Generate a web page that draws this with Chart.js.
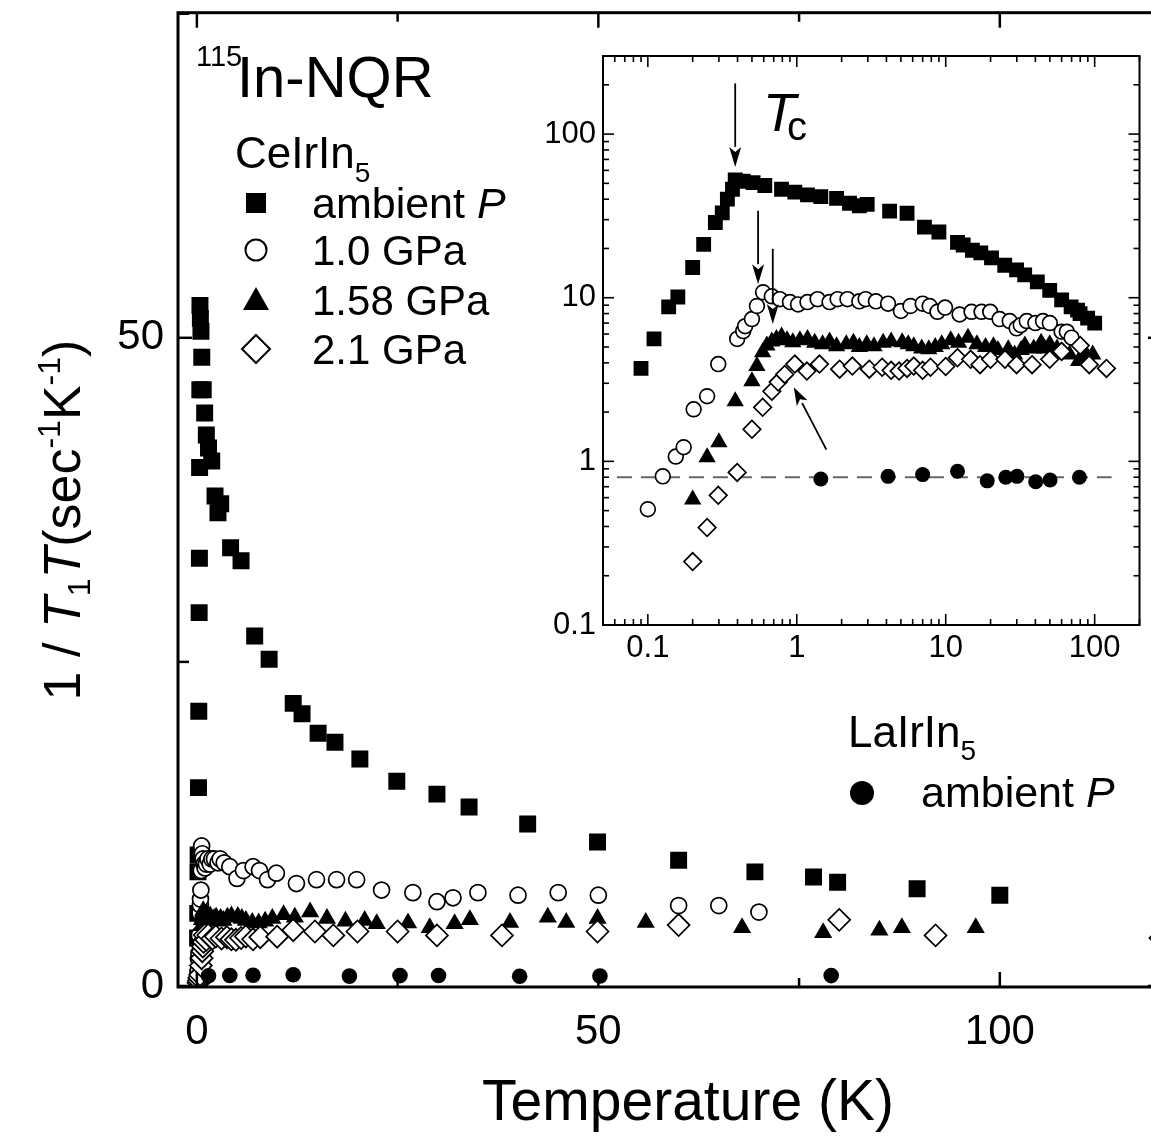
<!DOCTYPE html>
<html>
<head>
<meta charset="utf-8">
<script src="https://cdn.jsdelivr.net/npm/chart.js@4.4.1/dist/chart.umd.min.js"></script>
<style>
html,body{margin:0;padding:0;background:#fff;}
#wrap{position:relative;width:1151px;height:1138px;overflow:hidden;background:#fff;}
#main{position:absolute;left:0;top:0;}
#inset{position:absolute;left:520px;top:30px;}
#ov{position:absolute;left:0;top:0;pointer-events:none;}
</style>
</head>
<body>
<div id="wrap">
<canvas id="main" width="1180" height="1138"></canvas>
<canvas id="inset" width="630" height="650"></canvas>
<svg id="ov" width="1151" height="1138" font-family="'Liberation Sans', Arial, Helvetica, sans-serif" fill="#000">
  <text x="196" y="66" font-size="29">115</text>
  <text x="237" y="97" font-size="58">In-NQR</text>
  <text x="235" y="168" font-size="44">CeIrIn<tspan font-size="28" dy="14">5</tspan></text>
  <rect x="246" y="193" width="20" height="20" fill="#000"/>
  <text x="312" y="218" font-size="43">ambient <tspan font-style="italic">P</tspan></text>
  <circle cx="256" cy="250" r="10.5" fill="#fff" stroke="#000" stroke-width="2"/>
  <text x="312" y="265" font-size="42">1.0 GPa</text>
  <polygon points="256,287 243,310 269,310" fill="#000"/>
  <text x="312" y="315" font-size="42">1.58 GPa</text>
  <polygon points="256,335 270,349 256,363 242,349" fill="#fff" stroke="#000" stroke-width="2"/>
  <text x="312" y="364" font-size="42">2.1 GPa</text>
  <text x="848" y="747" font-size="44">LaIrIn<tspan font-size="28" dy="13">5</tspan></text>
  <circle cx="862" cy="793" r="12" fill="#000"/>
  <text x="921" y="807" font-size="43">ambient <tspan font-style="italic">P</tspan></text>
  <text x="763" y="131" font-size="54" font-style="italic">T</text>
  <text x="787" y="140" font-size="40">c</text>
  <text x="688" y="1120" font-size="57" text-anchor="middle">Temperature (K)</text>
  <text transform="translate(80,520) rotate(-90)" text-anchor="middle" font-size="52">1 / <tspan font-style="italic">T</tspan><tspan font-size="32" dy="10">1</tspan><tspan font-style="italic" dy="-10">T</tspan>(sec<tspan font-size="32" dy="-20">-1</tspan><tspan dy="20">K</tspan><tspan font-size="32" dy="-20">-1</tspan><tspan dy="20">)</tspan></text>
</svg>
</div>
<script>
// ---------------- data (T in K, 1/T1T in sec^-1 K^-1) ----------------
const ceAmbT = [0.09,0.11,0.138,0.159,0.2,0.237,0.284,0.316,0.342,0.37,0.386,0.437,0.509,0.61,0.79,0.97,1.18,1.45,1.85,2.26,2.63,2.97,4.2,5.5,7.2,9.0,12.0,13.1,15.1,17.2,20.3,24.9,29.9,33.9,41.2,49.9,60.0,69.5,76.8,79.8,89.7,100];
const ceAmbV = [3.7,5.6,8.8,10.1,15.3,21.2,28.8,33,40,46,52.5,51.5,50.5,48.5,46,44.2,42.5,41.5,40.5,37.8,36.5,37.2,33.8,32.8,27,25.2,21.8,21,19.5,18.8,17.5,15.8,14.8,13.8,12.5,11.1,9.7,8.8,8.4,8.0,7.5,7.0];

const ce10T = [0.1,0.126,0.154,0.174,0.203,0.25,0.297,0.398,0.437,0.45,0.5,0.54,0.594,0.68,0.77,0.9,1.02,1.18,1.38,1.66,1.88,2.19,2.63,2.9,3.4,4.1,5.0,5.8,7.0,7.8,8.8,9.9,12.4,14.9,17.4,19.9,23.0,26.9,29.9,31.9,35,40,45,50,60,65,70];
const ce10V = [0.51,0.81,1.07,1.22,2.08,2.5,3.93,5.6,6.25,6.7,7.4,8.9,10.8,10.2,9.8,9.4,9.1,9.4,9.8,9.4,9.8,9.8,9.5,9.8,9.5,9.2,8.3,8.9,9.2,8.9,8.2,8.7,7.9,8.2,8.2,8.2,7.4,7.2,6.5,6.8,7.2,7.0,7.2,7.0,6.2,6.2,5.7];

const ce158T = [0.2,0.25,0.3,0.386,0.5,0.54,0.59,0.63,0.68,0.73,0.79,0.86,0.94,1.05,1.18,1.32,1.49,1.66,1.85,2.15,2.4,2.63,2.95,3.3,3.8,4.3,5.1,5.6,6.1,6.9,7.7,8.5,9.4,10.8,12.2,14.1,16.2,18.5,20.9,22.4,26.3,29,32.1,34,39,43.7,46,49.9,55.9,67.9,78,85,87.8,97];
const ce158V = [0.585,1.06,1.31,2.33,3.09,3.82,4.65,5.1,5.4,5.6,5.8,5.5,5.35,5.5,5.6,5.3,5.2,5.4,5.05,5.2,5.3,5.0,5.2,5.05,5.3,5.4,5.35,5.2,5.05,4.9,4.85,5.0,5.2,5.5,5.3,5.7,5.2,5.0,5.05,4.8,4.85,4.5,4.8,5.1,4.9,5.3,4.9,5.2,4.9,4.5,4.1,4.3,4.5,4.5];

const ce21T = [0.2,0.25,0.297,0.398,0.5,0.59,0.68,0.75,0.83,0.97,1.17,1.42,1.94,2.36,3.07,3.74,4.3,4.86,5.5,6.1,7.0,7.9,10,12,14.7,17,20,25,29.9,38,49.9,60,80,92,120];
const ce21V = [0.244,0.394,0.62,0.856,1.57,2.14,2.68,3.05,3.4,3.93,3.56,3.93,3.66,3.82,3.66,3.76,3.6,3.56,3.7,3.82,3.6,3.76,3.8,4.3,4.2,3.9,4.2,4.2,3.9,3.9,4.2,4.7,5.1,3.9,3.7];

const laAmbT = [1.45,4.1,7.0,12.0,19.0,25.3,30.1,40.2,50.2,79];
const laAmbV = [0.78,0.81,0.83,0.87,0.76,0.80,0.81,0.75,0.77,0.80];

// guide line (LaIrIn5 level) and Tc arrows in the inset
const laGuideT = [0.062,130];
const laGuideV = [0.8,0.8];
const tcArrowT = [0.386,0.55,0.69];
const tcArrowFrom = [204,34,19.9];
const tcArrowTo = [63,12.1,6.9];
const diagArrowFrom = [1.58,1.18];
const diagArrowTo = [0.955,2.84];

// tick values / labels
const mainXTicks = [0,25,50,75,100];
const mainXLabels = ['0',null,'50',null,'100'];
const mainYTicks = [0,25,50,75];
const mainYLabels = ['0',null,'50',null];
const insetTicks = [0.1,1,10,100];
const insetTickLabels = ['0.1','1','10','100'];

// --------------------------------------------------------------------
const FONT = "'Liberation Sans', Arial, Helvetica, sans-serif";
const pts = (xs, ys) => xs.map((x, i) => ({x: x, y: ys[i]}));

function seriesSets(s) {
  return [
    {label:'CeIrIn5 ambient P', data:pts(ceAmbT,ceAmbV), pointStyle:'rect', pointRadius:s.sq, backgroundColor:'#000', borderColor:'#000', borderWidth:0, order:5},
    {label:'CeIrIn5 1.0 GPa', data:pts(ce10T,ce10V), pointStyle:'circle', pointRadius:s.ci, backgroundColor:'#fff', borderColor:'#000', borderWidth:1.7, order:4},
    {label:'CeIrIn5 1.58 GPa', data:pts(ce158T,ce158V), pointStyle:'triangle', pointRadius:s.tr, backgroundColor:'#000', borderColor:'#000', borderWidth:0, order:3},
    {label:'CeIrIn5 2.1 GPa', data:pts(ce21T,ce21V), pointStyle:'rectRot', pointRadius:s.di, backgroundColor:'#fff', borderColor:'#000', borderWidth:1.7, order:2},
    {label:'LaIrIn5 ambient P', data:pts(laAmbT,laAmbV), pointStyle:'circle', pointRadius:s.fc, backgroundColor:'#000', borderColor:'#000', borderWidth:0, order:1}
  ];
}

function line(ctx, x1, y1, x2, y2) { ctx.beginPath(); ctx.moveTo(x1, y1); ctx.lineTo(x2, y2); ctx.stroke(); }

const mainFrame = {
  id: 'mainFrame',
  afterDatasetsDraw(chart) {
    const {ctx, chartArea: a, scales: {x, y}} = chart;
    ctx.save();
    ctx.strokeStyle = '#000';
    ctx.lineWidth = 2.5;
    mainXTicks.forEach((v, i) => {
      const p = x.getPixelForValue(v);
      const len = mainXLabels[i] ? 15 : 9;
      line(ctx, p, a.bottom, p, a.bottom - len);
      line(ctx, p, a.top, p, a.top + len);
    });
    mainYTicks.forEach((v, i) => {
      const p = y.getPixelForValue(v);
      const len = mainYLabels[i] ? 14 : 11;
      line(ctx, a.left, p, a.left + len, p);
      line(ctx, a.right, p, a.right - len, p);
    });
    ctx.lineWidth = 3;
    ctx.strokeRect(a.left, a.top, a.right - a.left, a.bottom - a.top);
    ctx.restore();
  }
};

function arrow(ctx, x1, y1, x2, y2, head, hw) {
  const ang = Math.atan2(y2 - y1, x2 - x1);
  const bx = x2 - head * Math.cos(ang), by = y2 - head * Math.sin(ang);
  line(ctx, x1, y1, bx, by);
  ctx.beginPath();
  ctx.moveTo(x2, y2);
  ctx.lineTo(bx + hw * Math.sin(ang), by - hw * Math.cos(ang));
  ctx.lineTo(x2 - (head * 0.75) * Math.cos(ang), y2 - (head * 0.75) * Math.sin(ang));
  ctx.lineTo(bx - hw * Math.sin(ang), by + hw * Math.cos(ang));
  ctx.closePath();
  ctx.fill();
}

const insetFrame = {
  id: 'insetFrame',
  beforeDraw(chart) {
    const {ctx, chartArea: a} = chart;
    ctx.save();
    ctx.fillStyle = '#fff';
    ctx.fillRect(a.left, a.top, a.right - a.left, a.bottom - a.top);
    ctx.restore();
  },
  afterDatasetsDraw(chart) {
    const {ctx, chartArea: a, scales: {x, y}} = chart;
    ctx.save();
    ctx.strokeStyle = '#000';
    ctx.fillStyle = '#000';
    ctx.lineWidth = 1.6;
    for (let e = -2; e <= 2; e++) {
      for (let m = 1; m <= 9; m++) {
        const v = m * Math.pow(10, e);
        const len = m === 1 ? 11 : 6;
        if (v >= x.min && v <= x.max) {
          const p = x.getPixelForValue(v);
          line(ctx, p, a.bottom, p, a.bottom - len);
          line(ctx, p, a.top, p, a.top + len);
        }
        if (v >= y.min && v <= y.max) {
          const p = y.getPixelForValue(v);
          line(ctx, a.left, p, a.left + len, p);
          line(ctx, a.right, p, a.right - len, p);
        }
      }
    }
    ctx.lineWidth = 2;
    ctx.strokeRect(a.left, a.top, a.right - a.left, a.bottom - a.top);
    // Tc arrows
    ctx.lineWidth = 1.8;
    tcArrowT.forEach((t, i) => {
      const px = x.getPixelForValue(t);
      arrow(ctx, px, y.getPixelForValue(tcArrowFrom[i]), px, y.getPixelForValue(tcArrowTo[i]), 20, 6);
    });
    arrow(ctx, x.getPixelForValue(diagArrowFrom[0]), y.getPixelForValue(diagArrowFrom[1]),
               x.getPixelForValue(diagArrowTo[0]), y.getPixelForValue(diagArrowTo[1]), 18, 6);
    ctx.restore();
  }
};

const noGrid = {display: false, drawTicks: false};
function fixX(h) { return s => { s.height = h; s.paddingLeft = 0; s.paddingRight = 0; }; }
function fixY(w) { return s => { s.width = w; s.paddingTop = 0; s.paddingBottom = 0; }; }

new Chart(document.getElementById('main'), {
  type: 'scatter',
  data: {datasets: seriesSets({sq: 12, ci: 8, tr: 10.5, di: 11, fc: 7.8})},
  options: {
    responsive: false, animation: false, devicePixelRatio: 1, events: [],
    layout: {padding: {top: 10, right: 18, left: 0, bottom: 0}},
    plugins: {legend: {display: false}, tooltip: {enabled: false}},
    scales: {
      x: {
        type: 'linear', min: -2.35, max: 120.2,
        afterFit: fixX(151),
        afterBuildTicks: s => { s.ticks = mainXTicks.map(v => ({value: v})); },
        grid: noGrid, border: {display: false},
        ticks: {autoSkip: false, maxRotation: 0, color: '#000', padding: 20,
                font: {family: FONT, size: 42},
                callback: (v) => mainXLabels[mainXTicks.indexOf(v)]}
      },
      y: {
        type: 'linear', min: -0.08, max: 75.08,
        afterFit: fixY(178),
        afterBuildTicks: s => { s.ticks = mainYTicks.map(v => ({value: v})); },
        grid: noGrid, border: {display: false},
        ticks: {autoSkip: false, color: '#000', padding: 14,
                font: {family: FONT, size: 42},
                callback: (v) => mainYLabels[mainYTicks.indexOf(v)]}
      }
    }
  },
  plugins: [mainFrame]
});

const insetSets = seriesSets({sq: 10.5, ci: 7.4, tr: 10, di: 8.8, fc: 7.5});
insetSets.push({label: 'LaIrIn5 level', data: pts(laGuideT, laGuideV), showLine: true, pointRadius: 0,
                borderColor: '#666', borderWidth: 2, borderDash: [15, 9], order: 6});

new Chart(document.getElementById('inset'), {
  type: 'scatter',
  data: {datasets: insetSets},
  options: {
    responsive: false, animation: false, devicePixelRatio: 1, events: [],
    layout: {padding: {top: 26, right: 8, left: 0, bottom: 0}},
    plugins: {legend: {display: false}, tooltip: {enabled: false}},
    scales: {
      x: {
        type: 'logarithmic', min: 0.05, max: 200,
        afterFit: fixX(55),
        afterBuildTicks: s => { s.ticks = insetTicks.map(v => ({value: v})); },
        grid: noGrid, border: {display: false},
        ticks: {autoSkip: false, maxRotation: 0, color: '#000', padding: 5,
                font: {family: FONT, size: 31},
                callback: (v) => insetTickLabels[insetTicks.indexOf(v)]}
      },
      y: {
        type: 'logarithmic', min: 0.1, max: 300,
        afterFit: fixY(83),
        afterBuildTicks: s => { s.ticks = insetTicks.map(v => ({value: v})); },
        grid: noGrid, border: {display: false},
        ticks: {autoSkip: false, color: '#000', padding: 7,
                font: {family: FONT, size: 31},
                callback: (v) => insetTickLabels[insetTicks.indexOf(v)]}
      }
    }
  },
  plugins: [insetFrame]
});
</script>
</body>
</html>
